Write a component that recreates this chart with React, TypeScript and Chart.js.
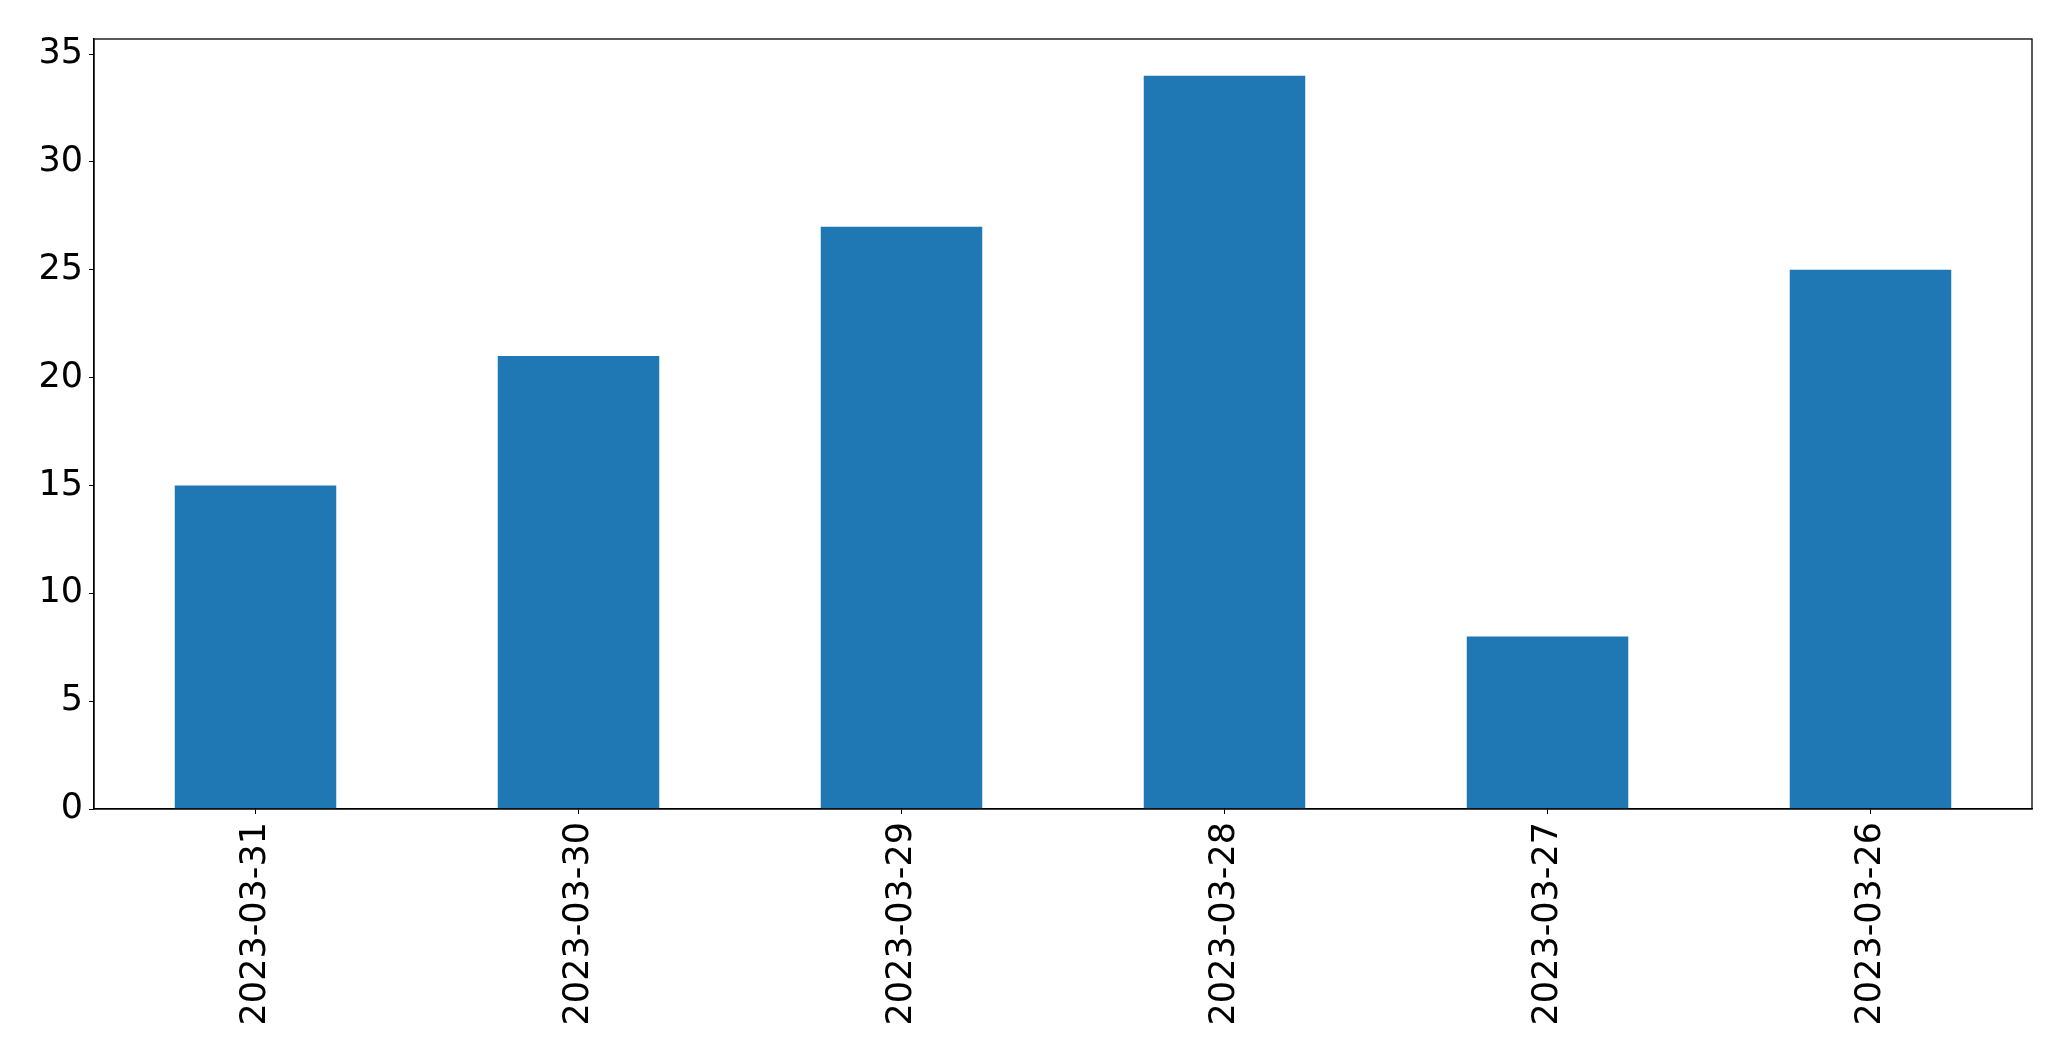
import React, { useEffect, useRef } from "react";
import { Chart, registerables } from "chart.js";

Chart.register(...registerables);

const categories = ["2023-03-31", "2023-03-30", "2023-03-29", "2023-03-28", "2023-03-27", "2023-03-26"];
const values = [15, 21, 27, 34, 8, 25];
const yTicks = [0, 5, 10, 15, 20, 25, 30, 35];

const FONT = "'DejaVu Sans', sans-serif";

const frame = {
  id: "frame",
  afterDraw(chart: any) {
    const { ctx, chartArea } = chart;
    ctx.save();
    ctx.strokeStyle = "#000";
    ctx.lineWidth = 1.3;
    ctx.strokeRect(chartArea.left, chartArea.top, chartArea.right - chartArea.left, chartArea.bottom - chartArea.top);
    ctx.restore();
  },
};

export default function App() {
  const ref = useRef<HTMLCanvasElement>(null);
  useEffect(() => {
    document.body.style.margin = "0";
    const chart = new Chart(ref.current!, {
      type: "bar",
      data: {
        labels: categories,
        datasets: [
          {
            data: values,
            backgroundColor: "#1f77b4",
            barPercentage: 0.5,
            categoryPercentage: 1,
          },
        ],
      },
      options: {
        animation: false,
        responsive: false,
        maintainAspectRatio: false,
        layout: { padding: { top: 39, right: 39, bottom: 0, left: 0 } },
        plugins: { legend: { display: false }, tooltip: { enabled: false } },
        scales: {
          x: {
            offset: true,
            grid: { display: true, drawOnChartArea: false, drawTicks: true, tickLength: 5, color: "#000", offset: false },
            border: { display: true, color: "#000", width: 1.3 },
            ticks: {
              minRotation: 90,
              maxRotation: 90,
              autoSkip: false,
              color: "#000",
              padding: 8,
              font: { family: FONT, size: 35 },
            },
            afterFit(scale: any) {
              scale.height = 1061 - 809;
            },
          },
          y: {
            min: 0,
            max: 35.7,
            afterBuildTicks(scale: any) {
              scale.ticks = yTicks.map((v) => ({ value: v }));
            },
            grid: { display: true, drawOnChartArea: false, drawTicks: true, tickLength: 5, color: "#000" },
            border: { display: true, color: "#000", width: 1.3 },
            ticks: {
              color: "#000",
              padding: 6,
              font: { family: FONT, size: 35 },
            },
            afterFit(scale: any) {
              scale.width = 94;
            },
          },
        },
      },
      plugins: [frame],
    });
    return () => chart.destroy();
  }, []);
  return <canvas ref={ref} width={2071} height={1061} style={{ display: "block" }} />;
}
